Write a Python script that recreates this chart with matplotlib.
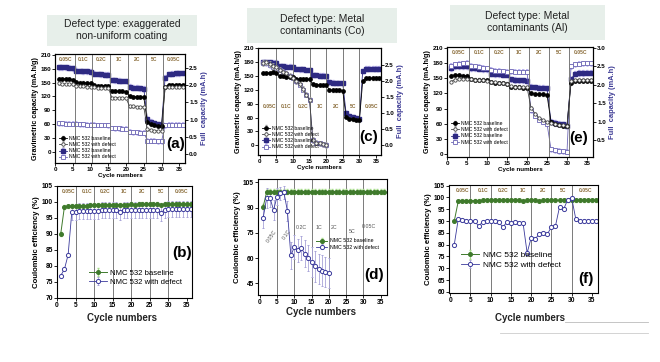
import matplotlib.pyplot as plt
from matplotlib.patches import FancyBboxPatch

plt.rcParams['font.family'] = ['Liberation Sans', 'DejaVu Sans']

W, H = 660, 362
cyc = list(range(1, 37))
rates = ['0.05C', '0.1C', '0.2C', '1C', '2C', '5C', '0.05C']
rate_x = [3, 8, 13, 18, 23, 28, 33.5]

# (a) exaggerated non-uniform coating
a_base = [157, 158, 158, 157, 156, 151, 150, 150, 149, 148, 144, 143, 143, 143, 142,
          132, 131, 131, 131, 130, 120, 119, 119, 118, 118, 64, 59, 57, 56, 55,
          140, 145, 145, 145, 145, 145]
a_def = [148, 147, 147, 147, 146, 143, 142, 142, 141, 141, 140, 139, 139, 139, 139,
         117, 117, 117, 116, 116, 98, 98, 97, 97, 97, 48, 46, 45, 45, 44,
         140, 141, 141, 141, 141, 141]
a_fbase = [2.52, 2.52, 2.51, 2.50, 2.49, 2.42, 2.41, 2.40, 2.40, 2.39, 2.33, 2.32, 2.31, 2.30, 2.30,
           2.15, 2.14, 2.13, 2.12, 2.12, 1.95, 1.93, 1.92, 1.91, 1.90, 1.02, 0.94, 0.90, 0.87, 0.85,
           2.22, 2.32, 2.33, 2.34, 2.34, 2.35]
a_fdef = [0.90, 0.90, 0.89, 0.89, 0.88, 0.88, 0.87, 0.87, 0.86, 0.86, 0.86, 0.85, 0.85, 0.85, 0.84,
          0.76, 0.75, 0.75, 0.74, 0.74, 0.65, 0.64, 0.64, 0.63, 0.63, 0.40, 0.39, 0.39, 0.38, 0.38,
          0.84, 0.86, 0.86, 0.86, 0.86, 0.86]

# (c) metal contaminants Co
c_base = [157, 157, 157, 158, 157, 150, 150, 149, 149, 148, 144, 143, 143, 143, 143,
          132, 131, 131, 131, 131, 120, 119, 119, 119, 118, 61, 58, 56, 55, 54,
          140, 145, 145, 145, 145, 145]
c_def = [179, 180, 176, 172, 169, 164, 160, 156, 151, 147, 140, 132, 122, 110, 99,
         12, 6, 4, 2, 1]
c_fbase = [2.60, 2.60, 2.59, 2.58, 2.58, 2.48, 2.47, 2.46, 2.46, 2.45, 2.38, 2.37, 2.37, 2.36, 2.36,
           2.20, 2.19, 2.18, 2.18, 2.17, 1.97, 1.96, 1.95, 1.95, 1.94, 1.00, 0.92, 0.88, 0.85, 0.83,
           2.32, 2.40, 2.40, 2.40, 2.40, 2.40]
c_fdef = [2.58, 2.56, 2.50, 2.46, 2.42, 2.36, 2.30, 2.24, 2.17, 2.10, 2.00, 1.88, 1.74, 1.58, 1.42,
          0.16, 0.09, 0.06, 0.03, 0.01]

# (e) metal contaminants Al
e_base = [155, 156, 156, 155, 155, 148, 147, 147, 147, 146, 142, 141, 140, 140, 139,
          133, 132, 132, 131, 131, 120, 119, 118, 118, 117, 64, 60, 58, 56, 55,
          140, 145, 145, 145, 145, 145]
e_def = [143, 147, 148, 149, 149, 148, 147, 146, 146, 145, 143, 142, 141, 140, 139,
         134, 133, 133, 132, 132, 92, 80, 72, 68, 64, 62, 60, 58, 57, 56,
         144, 146, 147, 147, 147, 147]
e_fbase = [2.45, 2.50, 2.50, 2.50, 2.50, 2.45, 2.44, 2.43, 2.42, 2.42, 2.30, 2.29, 2.28, 2.27, 2.27,
           2.15, 2.13, 2.12, 2.12, 2.11, 1.95, 1.93, 1.92, 1.92, 1.91, 1.00, 0.97, 0.95, 0.93, 0.90,
           2.15, 2.30, 2.32, 2.32, 2.33, 2.33]
e_fdef = [2.52, 2.55, 2.57, 2.58, 2.60, 2.52, 2.50, 2.48, 2.46, 2.45, 2.40, 2.38, 2.37, 2.36, 2.35,
          2.36, 2.35, 2.35, 2.35, 2.35, 1.32, 1.16, 1.06, 1.00, 0.95, 0.26, 0.23, 0.21, 0.20, 0.19,
          2.50, 2.55, 2.57, 2.58, 2.58, 2.58]

# coulombic efficiency
b_base = [90.0, 98.5, 98.6, 98.7, 98.8, 98.8, 98.9, 98.9, 99.0, 99.0, 99.1, 99.1, 99.1, 99.2, 99.2,
          99.2, 99.0, 99.2, 99.2, 99.3, 99.2, 99.3, 99.3, 99.3, 99.3, 99.3, 99.3, 99.2, 99.3, 99.4,
          99.4, 99.4, 99.4, 99.4, 99.4, 99.4]
b_def = [77.0, 79.0, 83.5, 97.0, 97.0, 97.1, 97.2, 97.2, 97.3, 97.3, 97.3, 97.4, 97.4, 97.4, 97.5,
         97.5, 97.0, 97.5, 97.5, 97.5, 97.5, 97.6, 97.6, 97.6, 97.6, 97.6, 97.6, 96.6, 97.6, 97.7,
         97.7, 97.7, 97.7, 97.7, 97.7, 97.7]
d_base = [90.5, 99.3, 99.4, 99.4, 99.5, 99.5, 99.5, 99.5, 99.4, 99.5, 99.5, 99.5, 99.5, 99.5, 99.5,
          99.4, 99.5, 99.5, 99.5, 99.5, 99.5, 99.5, 99.5, 99.5, 99.5, 99.5, 99.5, 99.5, 99.5, 99.5,
          99.5, 99.5, 99.5, 99.5, 99.5, 99.5]
d_def = [84.0, 95.5, 95.5, 88.5, 96.5, 98.5, 99.0, 88.0, 61.5, 66.5, 64.5, 66.0, 62.5, 60.0, 57.5,
         55.0, 53.5, 52.5, 51.5, 51.0]
d_err = [6, 6, 5, 6, 5, 4, 4, 6, 8, 7, 7, 7, 8, 8, 9, 9, 9, 9, 9, 9]
f_base = [90.0, 98.5, 98.6, 98.7, 98.7, 98.7, 98.7, 98.8, 98.8, 98.8, 98.8, 98.8, 98.8, 98.8, 98.8,
          98.8, 98.8, 98.6, 98.8, 98.8, 98.8, 98.6, 98.8, 98.8, 98.8, 98.8, 98.8, 98.8, 98.8, 98.8,
          98.8, 98.8, 98.8, 98.8, 98.8, 98.8]
f_def = [80.0, 91.0, 90.3, 90.0, 90.0, 90.0, 88.0, 89.5, 90.0, 90.0, 90.0, 89.5, 87.5, 89.5, 89.0,
         89.5, 89.0, 89.0, 76.5, 83.0, 82.5, 84.5, 85.0, 84.5, 87.5, 88.0, 96.0, 95.0, 99.0, 99.8,
         91.0, 90.0, 90.0, 90.0, 90.0, 90.0]

NAVY = '#2e2a82'
LAV = '#bcb4f0'
RATE = '#8b6d3a'
GREEN = '#3f7a2c'

fig = plt.figure(figsize=(W / 100, H / 100), dpi=100)


def box(x0, y0, x1, y1):
    return fig.add_axes([x0 / W, 1 - y1 / H, (x1 - x0) / W, (y1 - y0) / H])


def style_ax(ax, fs=4.5):
    ax.tick_params(labelsize=fs, length=2, width=0.6, pad=1)
    for lab in ax.get_xticklabels() + ax.get_yticklabels():
        lab.set_fontweight('bold')
    for s in ax.spines.values():
        s.set_linewidth(0.8)


def title_box(cx, cy, w, h, text):
    fig.patches.append(FancyBboxPatch(((cx - w / 2) / W, 1 - (cy + h / 2) / H), w / W, h / H,
                                      boxstyle='square,pad=0', transform=fig.transFigure,
                                      facecolor='#e7efea', edgecolor='none'))
    fig.text(cx / W, 1 - cy / H, text, ha='center', va='center', fontsize=7.5,
             linespacing=1.15, color='#222222')


def cap_panel(rect, base, dfc, fbase, fdef, ylim, ylim2, yt2, tag, tagxy,
              lg_xy, rate_y, vl, xlim):
    ax = box(*rect)
    ax2 = ax.twinx()
    n = len(dfc)
    ax2.errorbar(cyc, fbase, yerr=0.07, fmt='-s', color=NAVY, ms=2.4, lw=0.6,
                 ecolor=LAV, elinewidth=1.3, capsize=1.0, label='NMC 532 baseline')
    ax2.errorbar(cyc[:len(fdef)], fdef, yerr=0.07, fmt='-s', color='#6d66b5', mfc='white',
                 ms=2.4, lw=0.6, mew=0.6, ecolor=LAV, elinewidth=1.3, capsize=1.0,
                 label='NMC 532 with defect')
    ax.errorbar(cyc, base, yerr=2.5, fmt='-o', color='black', ms=2.4, lw=0.6,
                ecolor='#9a9a9a', elinewidth=0.5, capsize=0.8, label='NMC 532 baseline')
    ax.errorbar(cyc[:n], dfc, yerr=2.5 if n == 36 else 6, fmt='-o', color='#444444',
                mfc='white', ms=2.4, lw=0.6, mew=0.6, ecolor='#a0a0a0', elinewidth=0.5,
                capsize=0.8, label='NMC 532 with defect')
    for v in vl:
        ax.axvline(v, color='#7a7a7a', lw=0.7, zorder=0)
    ax.set_xlim(*xlim)
    ax.set_ylim(*ylim)
    ax2.set_ylim(*ylim2)
    ax.set_xticks(range(0, 36, 5))
    ax.set_yticks(range(0, 211, 30))
    ax2.set_yticks(yt2)
    ax.set_zorder(ax2.get_zorder() + 1)
    ax.patch.set_visible(False)
    style_ax(ax)
    style_ax(ax2)
    ax.set_ylabel('Gravimetric capacity (mA.h/g)', fontsize=5.2, fontweight='bold', labelpad=1)
    ax2.set_ylabel('Full  capacity (mA.h)', fontsize=5.4, fontweight='bold', color='#3c3a94',
                   labelpad=2)
    ax.set_xlabel('Cycle numbers', fontsize=4.5, fontweight='bold', labelpad=0.5)
    for rx, rt in zip(rate_x, rates):
        ax.text(rx, rate_y, rt, fontsize=3.6, color=RATE, ha='center', va='center',
                fontweight='bold')
    ax.text(tagxy[0], tagxy[1], tag, transform=ax.transAxes, fontsize=11,
            fontweight='bold', ha='center', va='center')
    h1, l1 = ax.get_legend_handles_labels()
    h2, l2 = ax2.get_legend_handles_labels()
    ax.legend(h1 + h2, l1 + l2, loc='lower left', bbox_to_anchor=lg_xy, fontsize=3.6,
              frameon=False, handlelength=1.6, labelspacing=0.25, borderpad=0.2,
              handletextpad=0.5)
    return ax


def ce_panel(rect, base, dfc, err, ylim, yt, tag, tagxy, lg_xy, lg_fs, xlim):
    ax = box(*rect)
    n = len(dfc)
    ax.errorbar(cyc, base, yerr=1.5 if n < 36 else 0.6, fmt='-o', color=GREEN, ms=2.6,
                lw=0.7, ecolor='#a8dc8c', elinewidth=0.8, capsize=1.0,
                label='NMC 532 baseline')
    ax.errorbar(cyc[:n], dfc, yerr=err, fmt='-o', color='#3b3a9c', mfc='white', ms=3.0,
                lw=0.6, mew=0.7, ecolor='#a8a4d8', elinewidth=0.6, capsize=1.0,
                label='NMC 532 with defect')
    for v in range(5, 31, 5):
        ax.axvline(v, color='#7a7a7a', lw=0.7, zorder=0)
    ax.set_xlim(*xlim)
    ax.set_ylim(*ylim)
    ax.set_xticks(range(0, 36, 5))
    ax.set_yticks(yt)
    style_ax(ax, 4.8)
    ax.set_ylabel('Coulombic efficiency (%)', fontsize=5.6, fontweight='bold', labelpad=1.5)
    ax.text(tagxy[0], tagxy[1], tag, transform=ax.transAxes, fontsize=11,
            fontweight='bold', ha='center', va='center')
    ax.legend(loc='lower left', bbox_to_anchor=lg_xy, fontsize=lg_fs, frameon=False,
              handlelength=2.2, labelspacing=0.2, borderpad=0.2, handletextpad=0.5)
    return ax


# top row
title_box(122, 30, 150, 31, 'Defect type: exaggerated\nnon-uniform coating')
title_box(322, 25, 150, 35, 'Defect type: Metal\ncontaminants (Co)')
title_box(527, 22, 155, 35, 'Defect type: Metal\ncontaminants (Al)')

bounds = [5.5, 10.5, 15.5, 20.5, 25.5, 30.5]
cap_panel((55, 54, 185, 163), a_base, a_def, a_fbase, a_fdef, (-25, 212), (-0.25, 2.9),
          [0.0, 0.5, 1.0, 1.5, 2.0, 2.5], '(a)', (0.93, 0.17), (0.0, 0.0), 200, bounds,
          (0, 36.6))
cap_panel((258, 48, 381, 155), c_base, c_def, c_fbase, c_fdef, (-21, 211), (-0.3, 3.04),
          [0.0, 0.5, 1.0, 1.5, 2.0, 2.5], '(c)', (0.9, 0.17), (0.0, 0.02), 85,
          [5, 10, 15, 20, 25, 30], (-0.5, 36.5))
cap_panel((447, 47, 593, 157), e_base, e_def, e_fbase, e_fdef, (-5, 211), (0.05, 3.02),
          [0.5, 1.0, 1.5, 2.0, 2.5, 3.0], '(e)', (0.9, 0.17), (0.0, 0.08), 200, bounds,
          (0, 36.5))

# bottom row
axb = ce_panel((57, 186, 192, 298), b_base, b_def, [0, 0, 0] + [2.5] * 33, (70, 105),
               range(70, 106, 5), '(b)', (0.93, 0.4), (0.2, 0.06), 5.6, (0, 36.4))
for rx, rt in zip(rate_x, rates):
    axb.text(rx, 103.2, rt, fontsize=3.6, color=RATE, ha='center', va='center',
             fontweight='bold')

axd = ce_panel((258, 179, 387, 295), d_base, d_def, d_err, (38, 107),
               range(45, 106, 15), '(d)', (0.9, 0.17), (0.42, 0.36), 3.8, (-0.5, 36.8))
d_lab = [(3.5, 73, '0.05C', 55), (7.8, 74, '0.1C', 55), (12, 78, '0.2C', 0),
         (17, 78, '1C', 0), (21.5, 78, '2C', 0), (26.8, 76, '5C', 0), (31.5, 79, '0.05C', 0)]
for rx, ry, rt, rot in d_lab:
    axd.text(rx, ry, rt, fontsize=3.8, color='#555555', ha='center', va='center',
             rotation=rot)

axf = ce_panel((449, 185, 598, 293), f_base, f_def, 0, (59.5, 105.3), range(60, 106, 5),
               '(f)', (0.92, 0.13), (0.04, 0.17), 6.0, (-0.3, 36.5))
for rx, rt in zip(rate_x, rates):
    axf.text(rx, 103.0, rt, fontsize=3.6, color=RATE, ha='center', va='center',
             fontweight='bold')

for cx, cy in [(122, 318), (321, 312), (530, 318)]:
    fig.text(cx / W, 1 - cy / H, 'Cycle numbers', ha='center', va='center', fontsize=7,
             fontweight='bold', color='#222222')

fig.lines.append(plt.Line2D([500 / W, 648 / W], [1 - 333 / H, 1 - 333 / H],
                            transform=fig.transFigure, color='#cccccc', lw=0.6))
fig.lines.append(plt.Line2D([565 / W, 648 / W], [1 - 322 / H, 1 - 322 / H],
                            transform=fig.transFigure, color='#bbbbbb', lw=0.6))

fig.savefig('out.png', dpi=100)
